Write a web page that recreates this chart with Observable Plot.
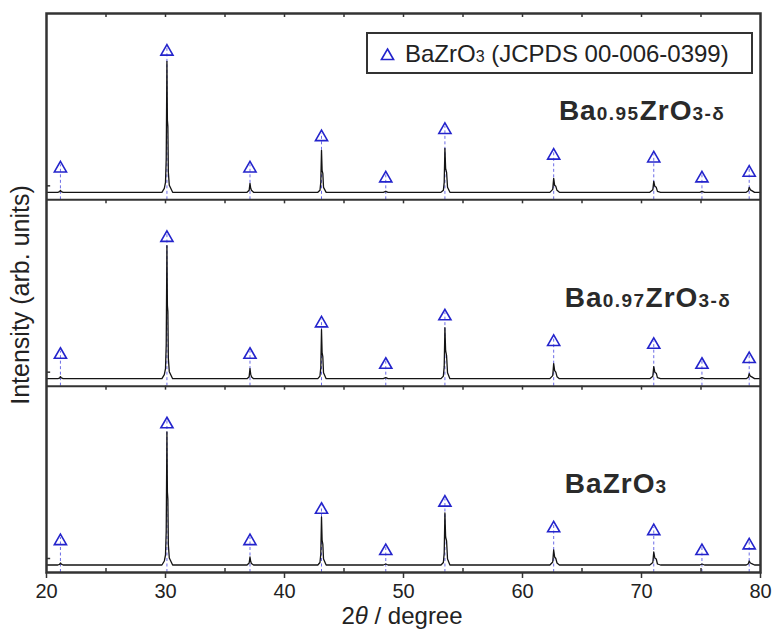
<!DOCTYPE html>
<html><head><meta charset="utf-8">
<script src="https://cdn.jsdelivr.net/npm/d3@7"></script>
<script src="https://cdn.jsdelivr.net/npm/@observablehq/plot@0.6"></script>
<style>body{margin:0;background:#fff}</style>
</head><body><div id="chart"></div>
<script>
// samples, bottom panel first
const samples = ["BaZrO3", "Ba0.97ZrO3-δ", "Ba0.95ZrO3-δ"];
// JCPDS 00-006-0399 reference reflections (2θ) and relative intensities
const refPos = [21.17, 30.12, 37.10, 43.11, 48.51, 53.48, 62.62, 71.03, 75.08, 79.05];
const refRel = [18, 100, 18, 40, 11, 45, 27, 25, 11, 15];
// measured patterns: [2θ, intensity (a.u.)]
const traceBZ = [[20,0],[20.95,0],[21.1,0.6],[21.17,2],[21.25,0.8],[21.4,0],
 [29.7,0],[29.9,4],[30.0,10],[30.06,34],[30.12,133],[30.16,73],[30.2,66],[30.24,20],[30.32,7],[30.6,0],
 [36.85,0],[37.03,2],[37.1,8],[37.16,3.5],[37.22,1.5],[37.4,0],
 [42.8,0],[42.98,2.5],[43.05,11],[43.11,48],[43.16,25],[43.22,21],[43.28,6],[43.5,0],
 [48.3,0],[48.51,1],[48.7,0],
 [53.15,0],[53.35,2.5],[53.42,12],[53.48,52],[53.54,28],[53.62,24],[53.7,6],[53.9,0],
 [62.3,0],[62.54,3],[62.62,15],[62.7,8],[62.8,6.5],[62.9,2],[63.1,0],
 [70.7,0],[70.95,2.5],[71.03,13],[71.12,7],[71.24,6],[71.34,1],[71.6,0],
 [74.9,0],[75.08,1],[75.3,0],
 [78.8,0],[78.98,1.2],[79.05,4],[79.15,2],[79.3,1.2],[79.5,0],[80,0]];
const trace97 = [[20,0],[20.95,0],[21.1,0.6],[21.17,2],[21.25,0.8],[21.4,0],
 [29.7,0],[29.9,4],[30.0,10],[30.06,34],[30.12,133],[30.16,73],[30.2,67],[30.24,20],[30.32,7],[30.6,0],
 [36.85,0],[37.03,2],[37.1,10],[37.16,4.5],[37.22,2],[37.4,0],
 [42.8,0],[42.98,2.5],[43.05,11],[43.11,49],[43.16,26],[43.22,22],[43.28,6],[43.5,0],
 [48.3,0],[48.51,1],[48.7,0],
 [53.15,0],[53.35,2.5],[53.42,12],[53.48,51],[53.54,28],[53.62,23],[53.7,6],[53.9,0],
 [62.3,0],[62.54,3],[62.62,15],[62.7,8],[62.8,6.5],[62.9,2],[63.1,0],
 [70.7,0],[70.95,2.5],[71.03,12],[71.12,6.5],[71.24,5.5],[71.34,1],[71.6,0],
 [74.9,0],[75.08,1],[75.3,0],
 [78.8,0],[78.98,1.5],[79.05,5],[79.15,2.5],[79.3,1.5],[79.5,0],[80,0]];
const trace95 = [[20,0],[20.95,0],[21.1,0.6],[21.17,2],[21.25,0.8],[21.4,0],
 [29.7,0],[29.9,4],[30.0,10],[30.06,33],[30.12,131],[30.16,72],[30.2,66],[30.24,20],[30.32,7],[30.6,0],
 [36.85,0],[37.03,2],[37.1,9],[37.16,4],[37.22,2],[37.4,0],
 [42.8,0],[42.98,2],[43.05,10],[43.11,42],[43.16,22],[43.22,19],[43.28,5],[43.5,0],
 [48.3,0],[48.51,1],[48.7,0],
 [53.15,0],[53.35,2],[53.42,10],[53.48,44],[53.54,24],[53.62,20],[53.7,5],[53.9,0],
 [62.3,0],[62.54,3],[62.62,14],[62.7,7],[62.8,6],[62.9,2],[63.1,0],
 [70.7,0],[70.95,2.5],[71.03,11],[71.12,6],[71.24,5],[71.34,1],[71.6,0],
 [74.9,0],[75.08,1],[75.3,0],
 [78.8,0],[78.98,1.5],[79.05,5],[79.15,2.5],[79.3,1.5],[79.5,0],[80,0]];
const xTicks = [20, 30, 40, 50, 60, 70, 80];
const xMinor = [25, 35, 45, 55, 65, 75];
const legendText = "BaZrO3 (JCPDS 00-006-0399)";

// layout
const W = 774, H = 630, mL = 46, mR = 14, mT = 13, mB = 58;
const PANEL = (H - mT - mB) / 3;
const BASE = 7.5, REFK = 1.425, TRI_OFF = 1.75;
const traces = [traceBZ, trace97, trace95];

const lineRows = traces.flatMap((t, i) => t.map(([x, v]) => ({x, y: i * PANEL + BASE + v, s: samples[i]})));
const refRows = samples.flatMap((s, i) => refPos.map((x, j) => ({
  x, bottom: i * PANEL, tri: i * PANEL + BASE + refRel[j] * REFK - TRI_OFF
})));
const allTicks = [...xTicks, ...xMinor].filter(v => v > 20 && v < 80);
const topTickRows = [1, 2, 3].flatMap(k => allTicks.map(x => ({x, y1: k * PANEL - 4, y2: k * PANEL})));
const leftTickRows = [0, 1, 2].map(k => ({y: k * PANEL + 14}));

const ink = "#333";
const plot = Plot.plot({
  width: W, height: H,
  marginLeft: mL, marginRight: mR, marginTop: mT, marginBottom: mB,
  style: {fontFamily: "'Liberation Sans', Arial, sans-serif", fontSize: "20px", color: "#222", background: "#fff"},
  x: {domain: [20, 80], ticks: xTicks, tickSize: 6, tickPadding: 5, label: null},
  y: {domain: [0, 3 * PANEL], axis: null},
  marks: [
    Plot.ruleX(refRows, {x: "x", y1: "bottom", y2: d => d.tri + 3.5, stroke: "#6b6be6", strokeWidth: 1, strokeDasharray: "3,2.5"}),
    Plot.line(lineRows, {x: "x", y: "y", z: "s", stroke: "#141414", strokeWidth: 1.3}),
    Plot.dot(refRows, {x: "x", y: "tri", symbol: "triangle", r: 4.5, stroke: "#2424cc", strokeWidth: 1.6, fill: "none"}),
    Plot.ruleY([PANEL, 2 * PANEL], {stroke: ink, strokeWidth: 2}),
    Plot.ruleX(xMinor, {x: d => d, y1: 0, y2: 4, stroke: ink, strokeWidth: 1.5}),
    Plot.ruleX(topTickRows, {x: "x", y1: "y1", y2: "y2", stroke: ink, strokeWidth: 1.5}),
    Plot.ruleY(leftTickRows, {y: "y", x1: 20, x2: 20.35, stroke: ink, strokeWidth: 1.5}),
    Plot.frame({stroke: ink, strokeWidth: 2.5})
  ]
});
document.getElementById("chart").appendChild(plot);

const svg = d3.select(plot);
svg.selectAll("g[aria-label='x-axis tick'] path, g[aria-label='x-axis tick'] line").attr("stroke-width", 1.5).attr("stroke", ink);
const xs = plot.scale("x"), ys = plot.scale("y");
const sans = "'Liberation Sans', Arial, Helvetica, sans-serif";

// sample labels with subscripts
const labelParts = [
  [["Ba", 0], ["ZrO", 0], ["3", 1]],
  [["Ba", 0], ["0.97", 1], ["ZrO", 0], ["3-δ", 1]],
  [["Ba", 0], ["0.95", 1], ["ZrO", 0], ["3-δ", 1]]
];
const labelX = [63.6, 63.6, 63.1];
labelParts.forEach((parts, i) => {
  const t = svg.append("text")
    .attr("x", xs.apply(labelX[i])).attr("y", ys.apply(i * PANEL + 79))
    .attr("text-anchor", "start")
    .attr("font-family", sans).attr("font-weight", "bold").attr("fill", "#2a2a2a");
  parts.forEach(([s, sub]) => t.append("tspan")
    .attr("font-size", sub ? 19 : 28).attr("letter-spacing", sub ? 1.5 : 1).text(s));
});

// legend
const lg = svg.append("g");
lg.append("rect").attr("x", 367).attr("y", 33).attr("width", 385).attr("height", 40)
  .attr("fill", "#fff").attr("stroke", ink).attr("stroke-width", 2);
lg.append("path").attr("d", d3.symbol(d3.symbolTriangle, Math.PI * 4.5 * 4.5)())
  .attr("transform", "translate(387.5,56)").attr("fill", "none").attr("stroke", "#2424cc").attr("stroke-width", 1.6);
const lt = lg.append("text").attr("x", 405).attr("y", 62).attr("text-anchor", "start")
  .attr("font-family", sans).attr("font-size", 24).attr("fill", "#222");
lt.append("tspan").text(legendText.slice(0, 5));
lt.append("tspan").attr("font-size", 16).text(legendText.slice(5, 6));
lt.append("tspan").text(legendText.slice(6));

// axis titles
const xl = svg.append("text").attr("x", 402).attr("y", 624).attr("text-anchor", "middle")
  .attr("font-family", sans).attr("font-size", 24).attr("fill", "#222");
xl.append("tspan").text("2");
xl.append("tspan").attr("font-style", "italic").text("θ");
xl.append("tspan").text(" / degree");
svg.append("text").attr("transform", "translate(29,295) rotate(-90)").attr("text-anchor", "middle")
  .attr("font-family", sans).attr("font-size", 25).attr("fill", "#222").text("Intensity (arb. units)");
</script>
</body></html>
